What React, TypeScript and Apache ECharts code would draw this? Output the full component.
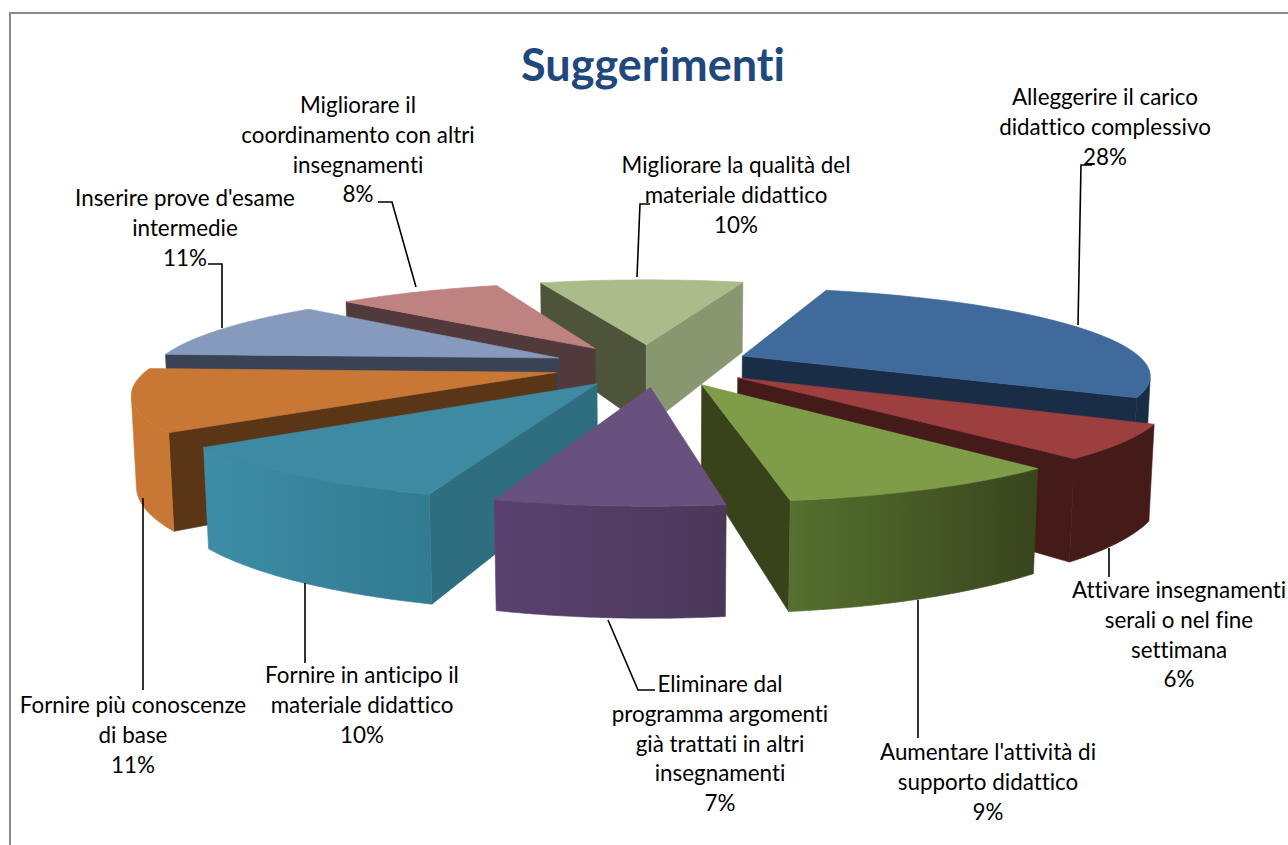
import React, { useEffect, useRef } from "react";
import * as echarts from "echarts";

const titleText = "Suggerimenti";
const categories = [
  "Alleggerire il carico\ndidattico complessivo",
  "Attivare insegnamenti\nserali o nel fine\nsettimana",
  "Aumentare l'attività di\nsupporto didattico",
  "Eliminare dal\nprogramma argomenti\ngià trattati in altri\ninsegnamenti",
  "Fornire in anticipo il\nmateriale didattico",
  "Fornire più conoscenze\ndi base",
  "Inserire prove d'esame\nintermedie",
  "Migliorare il\ncoordinamento con altri\ninsegnamenti",
  "Migliorare la qualità del\nmateriale didattico",
];
const percentages = [28, 6, 9, 7, 10, 11, 11, 8, 10];

const topColors = ["#3F6A9B", "#9C3F3E", "#7F9C48", "#68517F", "#3F8AA3", "#C87834", "#869ABD", "#BE8281", "#ABBB8A"];
const startWallColors = ["#1A2D47", "#441B19", "#38431C", "#4B3A5F", "#2F6E80", "#5B3616", "#3A4256", "#523A3C", "#4D5439"];
const endWallColors = ["#1A2D47", "#441B19", "#38431C", "#4B3A5F", "#2F6E80", "#5B3616", "#3A4256", "#523A3C", "#88976F"];
const outerLeftColors = ["#1A2D47", "#441B19", "#55702F", "#5A4170", "#3C8DA5", "#C87834", "#3A4256", "#523A3C", "#88976F"];
const outerRightColors = ["#1A2D47", "#441B19", "#38451D", "#4A3858", "#327B91", "#C87834", "#3A4256", "#523A3C", "#88976F"];

// label centre x, y of the first line centre
const labelAnchors: number[][] = [
  [1105, 97], [1179, 590], [988, 752], [720, 684], [362, 675], [133, 705], [185, 198], [358, 105], [736, 165],
];
const leaderPaths: number[][][] = [
  [[1092, 165], [1081, 165], [1078, 325]],
  [[1109, 577], [1109, 548]],
  [[918, 738], [918, 600]],
  [[655, 690], [638, 690], [608, 620]],
  [[305, 663], [305, 583]],
  [[143, 690], [143, 498]],
  [[208, 264], [222, 264], [222, 328]],
  [[378, 202], [392, 202], [416, 287]],
  [[650, 204], [640, 204], [637, 277]],
];

const rotation = 17;
const explodeSkew = -3;
const radius = 1;
const explode = 0.25;
const height = 0.219;
const camera = { cx: 653, cy: 365, f: 2000, D: 4.94, sin: 0.21, cos: 0.978 };

const rad = (d: number) => (d * Math.PI) / 180;
const project = (x: number, y: number, z: number) => {
  const zc = y * camera.cos - z * camera.sin + camera.D;
  const yc = y * camera.sin + z * camera.cos;
  return [camera.cx + (camera.f * x) / zc, camera.cy - (camera.f * yc) / zc];
};
const camPos = [0, -camera.D * camera.cos, camera.D * camera.sin];

const sliceRows = (() => {
  const total = percentages.reduce((a, b) => a + b, 0);
  let acc = rotation;
  const rows = percentages.map((v, i) => {
    const s = acc;
    const e = acc + (v / total) * 360;
    acc = e;
    return [s, e, i];
  });
  return rows.sort((a, b) => Math.cos(rad((b[0] + b[1]) / 2)) - Math.cos(rad((a[0] + a[1]) / 2)));
})();

const renderSlice = (_p: any, api: any) => {
  const a = api.value(0);
  const b = api.value(1);
  const i = api.value(2);
  const mid = rad((a + b) / 2 + explodeSkew);
  const ox = explode * Math.sin(mid);
  const oy = explode * Math.cos(mid);
  const pt = (t: number, z: number) => project(ox + radius * Math.sin(rad(t)), oy + radius * Math.cos(rad(t)), z);
  const apexT = project(ox, oy, 0);
  const apexB = project(ox, oy, -height);
  const children: any[] = [];
  const poly = (points: number[][], fill: any) =>
    children.push({ type: "polygon", shape: { points }, style: { fill, stroke: fill, lineWidth: 0.6 }, silent: true });

  const toCam = [camPos[0] - ox, camPos[1] - oy];
  const startN = [-Math.cos(rad(a)), Math.sin(rad(a))];
  const endN = [Math.cos(rad(b)), -Math.sin(rad(b))];
  if (startN[0] * toCam[0] + startN[1] * toCam[1] > 0) {
    poly([apexT, pt(a, 0), pt(a, -height), apexB], startWallColors[i]);
  }
  if (endN[0] * toCam[0] + endN[1] * toCam[1] > 0) {
    poly([apexT, pt(b, 0), pt(b, -height), apexB], endWallColors[i]);
  }
  const steps = 48;
  const arc: number[] = [];
  for (let k = 0; k <= steps; k++) arc.push(a + ((b - a) * k) / steps);
  const visible = arc.filter((t) => {
    const px = ox + radius * Math.sin(rad(t));
    const py = oy + radius * Math.cos(rad(t));
    return Math.sin(rad(t)) * (camPos[0] - px) + Math.cos(rad(t)) * (camPos[1] - py) > 0;
  });
  if (visible.length > 1) {
    const topEdge = visible.map((t) => pt(t, 0));
    const botEdge = visible.map((t) => pt(t, -height)).reverse();
    poly(topEdge.concat(botEdge), new echarts.graphic.LinearGradient(0, 0, 1, 0, [
      { offset: 0, color: outerLeftColors[i] },
      { offset: 1, color: outerRightColors[i] },
    ]));
  }
  poly([apexT].concat(arc.map((t) => pt(t, 0))), topColors[i]);
  return { type: "group", children };
};

const fontFamily = "Lato, 'Open Sans', sans-serif";

export default function App() {
  const ref = useRef<HTMLDivElement>(null);
  useEffect(() => {
    document.body.style.margin = "0";
    const chart = echarts.init(ref.current!, undefined, { renderer: "svg" });
    const labels = categories.map((c, i) => ({
      type: "text",
      x: labelAnchors[i][0],
      y: labelAnchors[i][1] - 15,
      z: 10,
      style: {
        text: `${c}\n${percentages[i]}%`,
        fontFamily,
        fontSize: 22.4,
        lineHeight: 29.6,
        fill: "#000000",
        align: "center",
        verticalAlign: "top",
      },
    }));
    const leaders = leaderPaths.map((points) => ({
      type: "polyline",
      z: 9,
      shape: { points },
      style: { stroke: "#000000", lineWidth: 1.6, fill: null },
    }));
    chart.setOption({
      animation: false,
      backgroundColor: "#ffffff",
      title: {
        text: titleText,
        left: 648,
        top: 36,
        textAlign: "center",
        textStyle: { fontFamily, fontSize: 45, fontWeight: "bold", color: "#1F497D" },
      },
      graphic: [
        {
          type: "polyline",
          shape: { points: [[10, 845], [10, 13], [1288, 13]] },
          style: { stroke: "#8C8C8C", lineWidth: 2, fill: null },
        },
        ...leaders,
        ...labels,
      ],
      series: [
        {
          type: "custom",
          coordinateSystem: "none",
          silent: true,
          z: 5,
          data: sliceRows,
          renderItem: renderSlice,
        },
      ],
    });
    return () => chart.dispose();
  }, []);
  return (
    <div
      ref={ref}
      style={{ position: "absolute", left: 0, top: 0, width: 1288, height: 845, fontVariantLigatures: "none" }}
    />
  );
}
